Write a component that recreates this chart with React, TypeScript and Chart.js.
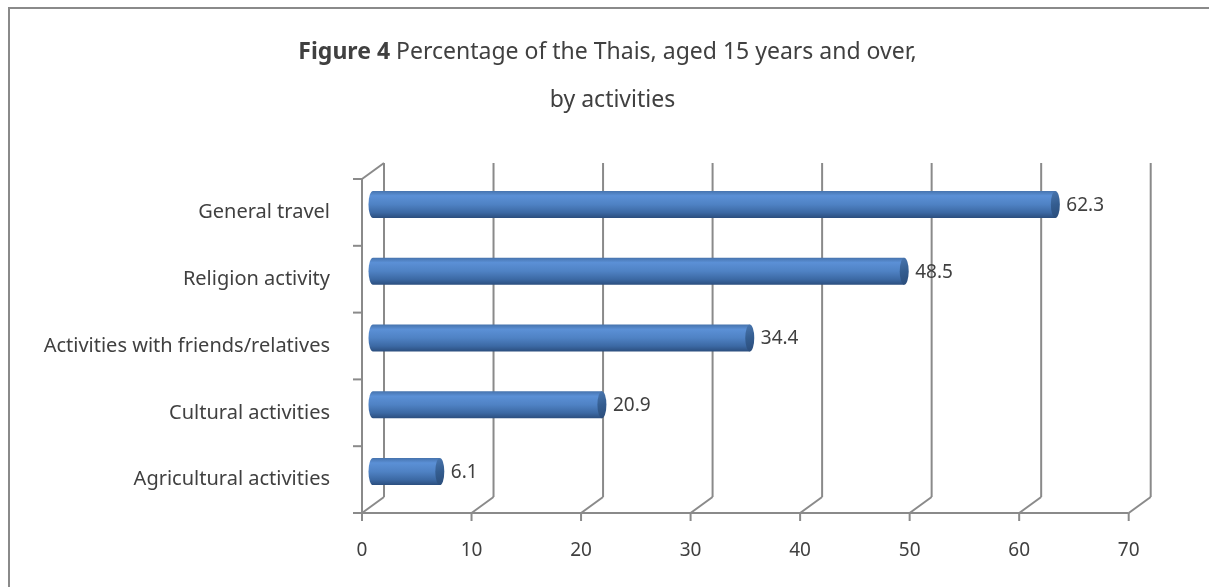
import { useEffect, useRef } from 'react';
import { Chart, registerables } from 'chart.js';

Chart.register(...registerables);

// ---- data ----
const categories = [
  'General travel',
  'Religion activity',
  'Activities with friends/relatives',
  'Cultural activities',
  'Agricultural activities',
];
const percentages = [62.3, 48.5, 34.4, 20.9, 6.1];
const axisMin = 0;
const axisMax = 70;
const axisStep = 10;
const titleBold = 'Figure 4';
const titleRest = ' Percentage of the Thais, aged 15 years and over,';
const titleLine2 = 'by activities';

// ---- look ----
const W = 1209;
const H = 587;
const DEPTH_X = 22; // offset of the back wall from the front plane
const DEPTH_Y = -16;
const FRAME = '#8a8a8a';
const TEXT = '#404040';
const FONT = "'Noto Sans', sans-serif";
const TITLE_SIZE = 23;

type Ctx = CanvasRenderingContext2D;

const line = (ctx: Ctx, x1: number, y1: number, x2: number, y2: number) => {
  ctx.beginPath();
  ctx.moveTo(x1, y1);
  ctx.lineTo(x2, y2);
  ctx.stroke();
};

// Outer frame, title and the 3-D walls / floor behind the bars
const framePlugin = {
  id: 'frame3d',
  beforeDatasetsDraw(chart: any) {
    const { ctx, chartArea: a } = chart;
    const xs = chart.scales.x;
    const ys = chart.scales.y;
    ctx.save();
    ctx.strokeStyle = FRAME;
    ctx.lineWidth = 2;

    // outer border
    line(ctx, 9, H, 9, 8);
    line(ctx, 8, 8, W, 8);

    // back wall verticals, floor diagonals and axis tick marks
    for (const t of xs.ticks) {
      const px = xs.getPixelForValue(t.value);
      line(ctx, px + DEPTH_X, a.top + DEPTH_Y, px + DEPTH_X, a.bottom + DEPTH_Y);
      line(ctx, px, a.bottom, px + DEPTH_X, a.bottom + DEPTH_Y);
      line(ctx, px, a.bottom, px, a.bottom + 8);
    }
    // floor front edge
    line(ctx, a.left, a.bottom, a.right, a.bottom);
    // side wall front edge
    line(ctx, a.left, a.top, a.left, a.bottom);
    line(ctx, a.left, a.top, a.left + DEPTH_X, a.top + DEPTH_Y);
    // category tick marks
    for (let i = 0; i <= categories.length; i++) {
      const py = ys.getPixelForValue(i - 0.5);
      line(ctx, a.left - 9, py, a.left, py);
    }

    // title
    ctx.fillStyle = TEXT;
    ctx.textBaseline = 'alphabetic';
    ctx.textAlign = 'left';
    ctx.font = `bold ${TITLE_SIZE}px ${FONT}`;
    const wb = ctx.measureText(titleBold).width;
    ctx.font = `${TITLE_SIZE}px ${FONT}`;
    const wr = ctx.measureText(titleRest).width;
    const sx = 607.5 - (wb + wr) / 2;
    ctx.font = `bold ${TITLE_SIZE}px ${FONT}`;
    ctx.fillText(titleBold, sx, 59);
    ctx.font = `${TITLE_SIZE}px ${FONT}`;
    ctx.fillText(titleRest, sx + wb, 59);
    ctx.textAlign = 'center';
    ctx.fillText(titleLine2, 612.5, 107);
    ctx.restore();
  },
  // cylinders and value labels
  afterDatasetsDraw(chart: any) {
    const { ctx } = chart;
    const meta = chart.getDatasetMeta(0);
    const ds = chart.data.datasets[0];
    ctx.save();
    meta.data.forEach((bar: any, i: number) => {
      const p = bar.getProps(['x', 'y', 'base', 'height'], true);
      const x0 = p.base + DEPTH_X / 2;
      const x1 = p.x + DEPTH_X / 2;
      const cy = p.y + DEPTH_Y / 2;
      const r = p.height / 2;
      const rx = 4.5;

      const g = ctx.createLinearGradient(0, cy - r, 0, cy + r);
      g.addColorStop(0, '#4673ad');
      g.addColorStop(0.18, '#5b90d6');
      g.addColorStop(0.5, '#4f82c4');
      g.addColorStop(0.8, '#3c69a4');
      g.addColorStop(1, '#2b4e7e');
      ctx.fillStyle = g;
      ctx.beginPath();
      ctx.moveTo(x1, cy - r);
      ctx.lineTo(x0, cy - r);
      ctx.ellipse(x0, cy, rx, r, 0, -Math.PI / 2, Math.PI / 2, true);
      ctx.lineTo(x1, cy + r);
      ctx.closePath();
      ctx.fill();

      const gc = ctx.createLinearGradient(x1 - rx, cy - r, x1 + rx, cy + r);
      gc.addColorStop(0, '#4a77b0');
      gc.addColorStop(0.5, '#345d90');
      gc.addColorStop(1, '#2a4c7a');
      ctx.fillStyle = gc;
      ctx.beginPath();
      ctx.ellipse(x1, cy, rx, r, 0, 0, Math.PI * 2);
      ctx.fill();

      ctx.fillStyle = TEXT;
      ctx.font = `19px ${FONT}`;
      ctx.textAlign = 'left';
      ctx.textBaseline = 'middle';
      ctx.fillText(String(ds.data[i]), x1 + 11, cy + 1);
    });
    ctx.restore();
  },
};

export default function App() {
  const ref = useRef<HTMLCanvasElement>(null);

  useEffect(() => {
    if (!ref.current) return;
    const chart = new Chart(ref.current, {
      type: 'bar',
      data: {
        labels: categories,
        datasets: [
          {
            data: percentages,
            backgroundColor: 'rgba(0,0,0,0)',
            borderWidth: 0,
            barThickness: 27,
          },
        ],
      },
      options: {
        indexAxis: 'y',
        animation: false,
        responsive: false,
        devicePixelRatio: 1,
        layout: { padding: { left: 0, top: 179, right: 80.3, bottom: 0 } },
        plugins: {
          legend: { display: false },
          title: { display: false },
          tooltip: { enabled: false },
        },
        scales: {
          x: {
            min: axisMin,
            max: axisMax,
            grid: { display: false, drawTicks: false },
            border: { display: false },
            ticks: {
              stepSize: axisStep,
              color: TEXT,
              padding: 26,
              font: { family: FONT, size: 19 },
            },
            afterFit: (s: any) => {
              s.height = 74;
            },
          },
          y: {
            grid: { display: false, drawTicks: false },
            border: { display: false },
            ticks: {
              color: TEXT,
              padding: 32,
              font: { family: FONT, size: 20 },
            },
            afterFit: (s: any) => {
              s.width = 362;
            },
          },
        },
      },
      plugins: [framePlugin],
    });
    return () => chart.destroy();
  }, []);

  return (
    <div style={{ position: 'absolute', left: 0, top: 0, width: W, height: H, background: '#fff' }}>
      <canvas ref={ref} width={W} height={H} />
    </div>
  );
}
